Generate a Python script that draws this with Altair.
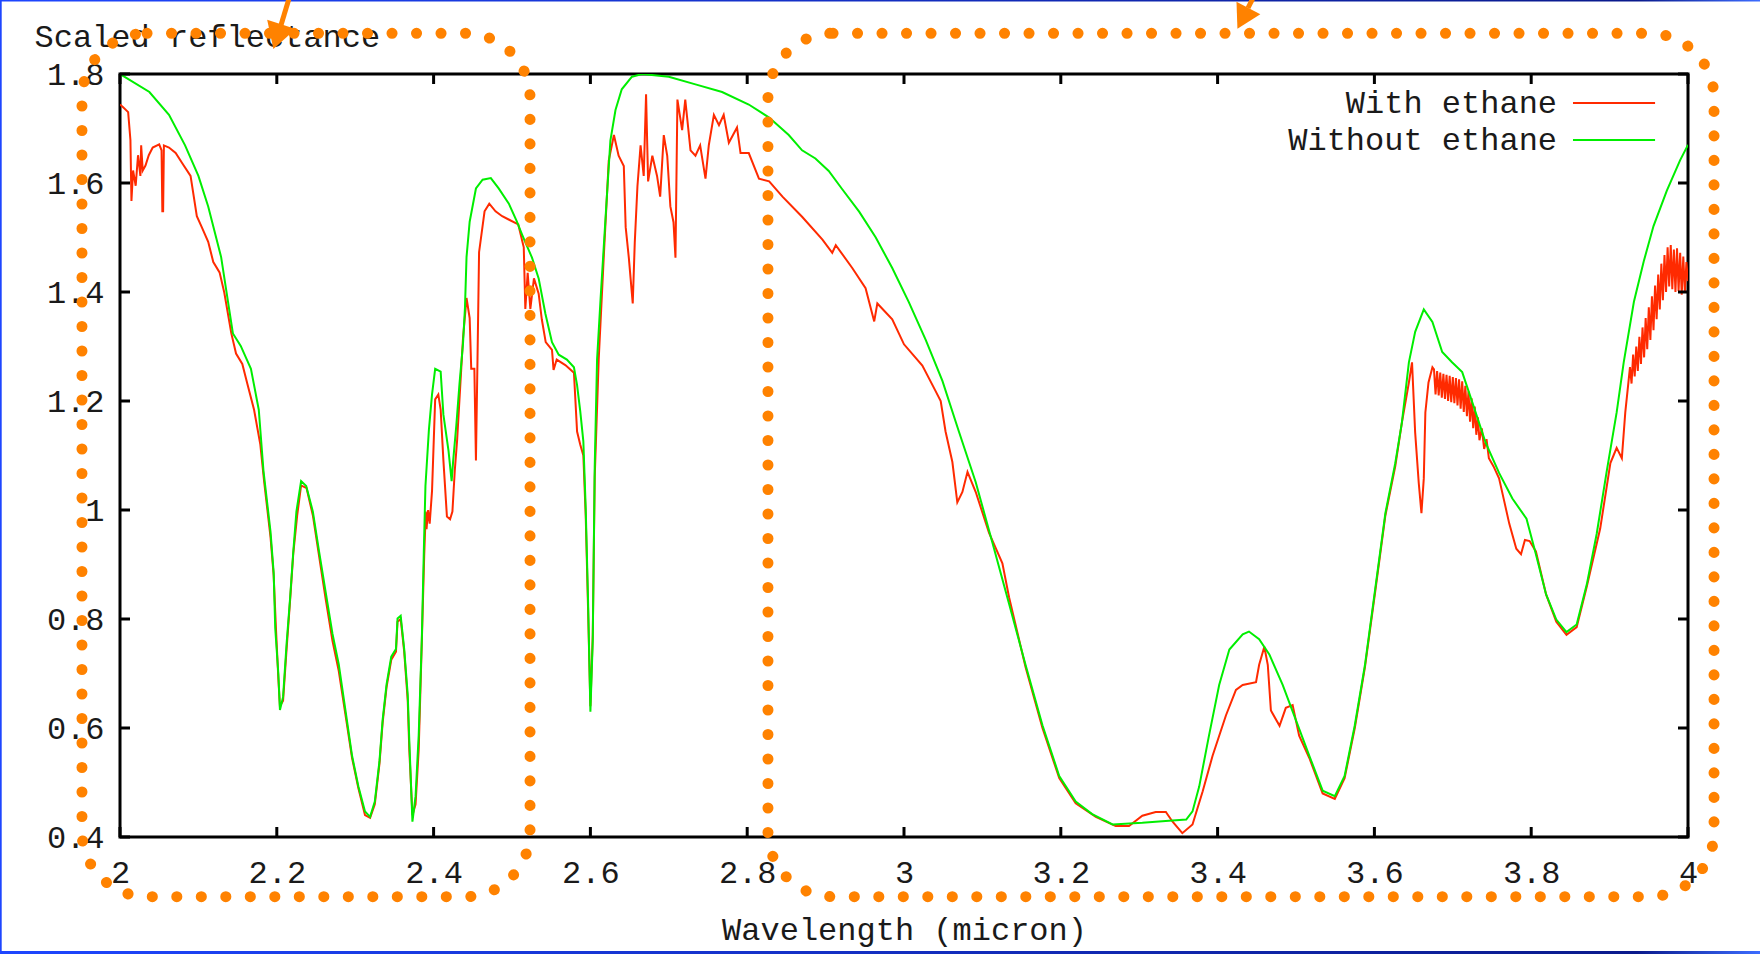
import altair as alt
import pandas as pd

# ---------------- data ----------------
green_wl = [2.000, 2.0375, 2.0625, 2.083, 2.100, 2.1125, 2.129, 2.144, 2.154, 2.167, 2.177, 2.183,
            2.192, 2.196, 2.198, 2.202, 2.204, 2.208, 2.2125, 2.217, 2.221, 2.225, 2.231, 2.2375,
            2.246, 2.254, 2.2625, 2.271, 2.279, 2.2875, 2.296, 2.304, 2.3125, 2.319, 2.325, 2.331,
            2.335, 2.340, 2.346, 2.352, 2.354, 2.358, 2.3625, 2.367, 2.369, 2.373, 2.377, 2.381,
            2.385, 2.3875, 2.3896, 2.394, 2.398, 2.402, 2.409, 2.4125, 2.419, 2.423, 2.425, 2.429,
            2.433, 2.4375, 2.440, 2.442, 2.446, 2.454, 2.4625, 2.473, 2.483, 2.496, 2.506, 2.513,
            2.5255, 2.534, 2.5426, 2.551, 2.5596, 2.570, 2.579, 2.583, 2.587, 2.591, 2.594, 2.597,
            2.600, 2.603, 2.6055, 2.6085, 2.613, 2.617, 2.621, 2.6255, 2.632, 2.640, 2.653, 2.666,
            2.700, 2.734, 2.768, 2.802, 2.828, 2.853, 2.870, 2.887, 2.904, 2.921, 2.943, 2.964,
            2.985, 3.006, 3.0277, 3.049, 3.070, 3.0915, 3.1128, 3.134, 3.155, 3.1766, 3.198, 3.219,
            3.240, 3.266, 3.304, 3.338, 3.360, 3.368, 3.3766, 3.389, 3.402, 3.415, 3.432, 3.440,
            3.453, 3.466, 3.483, 3.500, 3.517, 3.534, 3.5495, 3.562, 3.575, 3.588, 3.601, 3.614,
            3.6266, 3.635, 3.644, 3.652, 3.663, 3.674, 3.6865, 3.699, 3.712, 3.725, 3.742, 3.759,
            3.776, 3.794, 3.806, 3.819, 3.832, 3.845, 3.858, 3.871, 3.8835, 3.896, 3.909, 3.918,
            3.931, 3.9435, 3.956, 3.973, 3.990, 4.000]
green_refl = [1.800, 1.767, 1.725, 1.669, 1.613, 1.557, 1.464, 1.324, 1.301, 1.259, 1.184, 1.072,
              0.960, 0.885, 0.783, 0.699, 0.633, 0.657, 0.755, 0.839, 0.923, 0.997, 1.053, 1.044,
              0.997, 0.923, 0.848, 0.773, 0.717, 0.633, 0.549, 0.493, 0.447, 0.437, 0.465, 0.540,
              0.615, 0.680, 0.731, 0.745, 0.801, 0.806, 0.745, 0.661, 0.577, 0.428, 0.475, 0.587,
              0.764, 0.923, 1.044, 1.147, 1.212, 1.259, 1.254, 1.175, 1.109, 1.053, 1.091, 1.156,
              1.231, 1.305, 1.371, 1.464, 1.529, 1.590, 1.606, 1.609, 1.590, 1.562, 1.530, 1.505,
              1.463, 1.425, 1.360, 1.308, 1.285, 1.276, 1.262, 1.229, 1.182, 1.126, 1.004, 0.835,
              0.630, 0.760, 1.079, 1.276, 1.388, 1.482, 1.575, 1.678, 1.734, 1.772, 1.795, 1.800,
              1.795, 1.781, 1.767, 1.744, 1.720, 1.688, 1.660, 1.645, 1.622, 1.589, 1.547, 1.500,
              1.444, 1.382, 1.312, 1.237, 1.144, 1.051, 0.940, 0.828, 0.716, 0.605, 0.512, 0.465,
              0.442, 0.423, 0.426, 0.430, 0.432, 0.447, 0.493, 0.586, 0.679, 0.744, 0.772, 0.777,
              0.763, 0.735, 0.679, 0.614, 0.549, 0.485, 0.475, 0.512, 0.605, 0.716, 0.855, 0.994,
              1.086, 1.160, 1.271, 1.327, 1.368, 1.345, 1.290, 1.271, 1.253, 1.197, 1.123, 1.068,
              1.021, 0.984, 0.919, 0.845, 0.799, 0.776, 0.790, 0.864, 0.956, 1.068, 1.179, 1.271,
              1.382, 1.456, 1.521, 1.586, 1.642, 1.670]

red_wl = [2.000, 2.004, 2.0104, 2.0133, 2.0146, 2.0167, 2.020, 2.023, 2.026, 2.027, 2.029, 2.0325,
          2.0367, 2.0417, 2.050, 2.053, 2.054, 2.055, 2.056, 2.0625, 2.071, 2.079, 2.090, 2.098,
          2.104, 2.1125, 2.119, 2.127, 2.133, 2.142, 2.148, 2.156, 2.1625, 2.171, 2.179, 2.184,
          2.192, 2.196, 2.199, 2.202, 2.204, 2.208, 2.2125, 2.217, 2.221, 2.226, 2.231, 2.238,
          2.246, 2.254, 2.2625, 2.271, 2.279, 2.2875, 2.296, 2.304, 2.3125, 2.319, 2.325, 2.331,
          2.335, 2.340, 2.346, 2.352, 2.354, 2.358, 2.3625, 2.367, 2.369, 2.373, 2.377, 2.381,
          2.385, 2.388, 2.390, 2.391, 2.393, 2.395, 2.398, 2.402, 2.406, 2.409, 2.4125, 2.417,
          2.421, 2.424, 2.427, 2.430, 2.433, 2.4375, 2.442, 2.446, 2.448, 2.452, 2.454, 2.456,
          2.458, 2.465, 2.471, 2.479, 2.4875, 2.4957, 2.508, 2.515, 2.517, 2.520, 2.5234, 2.528,
          2.534, 2.538, 2.543, 2.551, 2.553, 2.557, 2.568, 2.579, 2.583, 2.587, 2.591, 2.594,
          2.597, 2.600, 2.603, 2.6055, 2.6106, 2.617, 2.6234, 2.630, 2.636, 2.6426, 2.645, 2.649,
          2.654, 2.6566, 2.660, 2.664, 2.668, 2.671, 2.6736, 2.679, 2.685, 2.689, 2.6936, 2.698,
          2.702, 2.706, 2.7085, 2.711, 2.717, 2.721, 2.7277, 2.734, 2.740, 2.7468, 2.751, 2.7575,
          2.764, 2.770, 2.7766, 2.787, 2.7915, 2.802, 2.815, 2.828, 2.845, 2.870, 2.896, 2.9085,
          2.913, 2.934, 2.951, 2.962, 2.966, 2.985, 3.000, 3.0234, 3.040, 3.0468, 3.053, 3.0617,
          3.068, 3.0745, 3.081, 3.0915, 3.1085, 3.1255, 3.134, 3.155, 3.1766, 3.198, 3.219, 3.2447,
          3.270, 3.287, 3.304, 3.321, 3.334, 3.3426, 3.355, 3.368, 3.381, 3.3936, 3.4106, 3.4234,
          3.432, 3.449, 3.453, 3.4596, 3.464, 3.468, 3.479, 3.487, 3.4957, 3.504, 3.517, 3.534,
          3.5495, 3.562, 3.575, 3.588, 3.601, 3.614, 3.6266, 3.635, 3.644, 3.648, 3.652, 3.6566,
          3.660, 3.663, 3.665, 3.669, 3.674,
          3.676, 3.678, 3.680, 3.682, 3.684, 3.686, 3.688, 3.690, 3.692, 3.694, 3.696, 3.698,
          3.700, 3.702, 3.704, 3.706, 3.708, 3.710, 3.712, 3.714, 3.716, 3.718, 3.720, 3.722,
          3.724, 3.726, 3.728, 3.730, 3.732, 3.734, 3.737, 3.740, 3.743, 3.746,
          3.752, 3.759, 3.765, 3.772, 3.781, 3.787, 3.792, 3.798,
          3.806, 3.819, 3.832, 3.845, 3.858, 3.871, 3.888, 3.901, 3.905, 3.909, 3.9156, 3.920,
          3.924,
          3.926, 3.928, 3.930, 3.932, 3.934, 3.936, 3.938, 3.940, 3.942, 3.944, 3.946, 3.948,
          3.950, 3.952, 3.954, 3.956, 3.958, 3.960, 3.962, 3.964, 3.966, 3.968, 3.970, 3.972,
          3.974, 3.976, 3.978, 3.980, 3.982, 3.984, 3.986, 3.988, 3.990, 3.992, 3.994, 3.996,
          3.998, 4.000]
red_refl = [1.744, 1.739, 1.730, 1.679, 1.567, 1.623, 1.595, 1.651, 1.613, 1.669, 1.623, 1.632,
            1.651, 1.665, 1.671, 1.660, 1.548, 1.548, 1.669, 1.665, 1.655, 1.637, 1.613, 1.539,
            1.520, 1.492, 1.455, 1.436, 1.399, 1.324, 1.287, 1.268, 1.231, 1.184, 1.120, 1.050,
            0.950, 0.880, 0.780, 0.690, 0.640, 0.650, 0.745, 0.835, 0.920, 0.990, 1.045, 1.040,
            0.990, 0.915, 0.835, 0.760, 0.705, 0.625, 0.545, 0.490, 0.440, 0.435, 0.460, 0.535,
            0.610, 0.675, 0.725, 0.740, 0.795, 0.800, 0.740, 0.650, 0.560, 0.440, 0.460, 0.560,
            0.760, 0.915, 0.997, 0.965, 1.000, 0.975, 1.035, 1.203, 1.212, 1.184, 1.091, 0.988,
            0.983, 0.997, 1.072, 1.128, 1.203, 1.315, 1.389, 1.352, 1.259, 1.259, 1.091, 1.277,
            1.473, 1.548, 1.562, 1.548, 1.539, 1.533, 1.524, 1.482, 1.369, 1.435, 1.369, 1.425,
            1.397, 1.350, 1.308, 1.294, 1.257, 1.276, 1.266, 1.252, 1.144, 1.120, 1.100, 0.990,
            0.820, 0.640, 0.770, 1.060, 1.276, 1.463, 1.641, 1.688, 1.650, 1.631, 1.519, 1.463,
            1.379, 1.491, 1.594, 1.669, 1.613, 1.763, 1.603, 1.650, 1.613, 1.575, 1.688, 1.650,
            1.557, 1.528, 1.463, 1.753, 1.697, 1.753, 1.660, 1.650, 1.669, 1.608, 1.669, 1.725,
            1.706, 1.725, 1.674, 1.702, 1.655, 1.655, 1.608, 1.603, 1.575, 1.538, 1.496, 1.472,
            1.486, 1.444, 1.407, 1.346, 1.379, 1.350, 1.304, 1.265, 1.219, 1.200, 1.144, 1.088,
            1.014, 1.033, 1.070, 1.033, 0.958, 0.902, 0.840, 0.712, 0.600, 0.508, 0.462, 0.437,
            0.420, 0.420, 0.439, 0.446, 0.446, 0.428, 0.407, 0.423, 0.484, 0.549, 0.623, 0.670,
            0.679, 0.684, 0.716, 0.749, 0.716, 0.632, 0.604, 0.637, 0.642, 0.586, 0.545, 0.480,
            0.470, 0.508, 0.600, 0.712, 0.850, 0.990, 1.080, 1.160, 1.234, 1.271, 1.142, 1.049,
            0.994, 1.058, 1.179, 1.234, 1.262,
            1.258, 1.212, 1.255, 1.210, 1.252, 1.206, 1.250, 1.204, 1.248, 1.200, 1.246, 1.198,
            1.244, 1.196, 1.242, 1.192, 1.240, 1.186, 1.236, 1.180, 1.228, 1.172, 1.218, 1.162,
            1.205, 1.150, 1.190, 1.138, 1.170, 1.128, 1.150, 1.112, 1.130, 1.095,
            1.080, 1.058, 1.020, 0.975, 0.929, 0.919, 0.945, 0.943,
            0.924, 0.845, 0.795, 0.771, 0.785, 0.860, 0.966, 1.086, 1.100, 1.114, 1.095, 1.179,
            1.234,
            1.262, 1.232, 1.285, 1.245, 1.300, 1.255, 1.318, 1.268, 1.335, 1.280, 1.352, 1.295,
            1.372, 1.312, 1.392, 1.330, 1.412, 1.350, 1.432, 1.368, 1.452, 1.385, 1.468, 1.400,
            1.482, 1.410, 1.486, 1.405, 1.478, 1.400, 1.480, 1.402, 1.472, 1.395, 1.465, 1.400,
            1.455, 1.420]

x_ticks = [2.0, 2.2, 2.4, 2.6, 2.8, 3.0, 3.2, 3.4, 3.6, 3.8, 4.0]
y_ticks = [0.4, 0.6, 0.8, 1.0, 1.2, 1.4, 1.6, 1.8]

legend_labels = ["With ethane", "Without ethane"]
legend_refl = [1.7468, 1.6789]
legend_text_wl = [3.833, 3.833]
legend_line_wl1 = [3.8533, 3.8533]
legend_line_wl2 = [3.958, 3.958]

# orange annotation boxes and arrows (data coordinates)
box_wl1 = [1.9515, 2.8265]
box_wl2 = [2.523, 4.0332]
box_refl1 = [0.2905, 0.2905]
box_refl2 = [1.8747, 1.8747]

arrow_wl0 = [2.2181, 3.449]
arrow_refl0 = [1.9505, 1.9505]
arrow_wl1 = [2.2054, 3.4388]
arrow_refl1 = [1.8899, 1.9211]
head_wl = [2.2008, 3.4323]
head_refl = [1.8685, 1.9022]
head_angle = [18, 28]
head_size = [900, 730]

# ---------------- styling ----------------
W, H = 1568, 763
RED = "#ff2a00"
GREEN = "#00ee00"
ORANGE = "#ff8200"
FONT = "Liberation Mono"
FS = 32
TXT = "#1a1a1a"

xs = alt.Scale(domain=[2, 4], nice=False, zero=False)
ys = alt.Scale(domain=[0.4, 1.8], nice=False, zero=False)

x_axis = alt.Axis(values=x_ticks, labelExpr="format(datum.value, '.2~f')", domain=False,
                  ticks=False, grid=False, labelFont=FONT, labelFontSize=FS, labelColor=TXT,
                  labelPadding=20, labelFlush=False, labelOverlap=False,
                  title="Wavelength (micron)", titleFont=FONT, titleFontSize=FS,
                  titleFontWeight="normal", titleColor=TXT, titleY=92, titleBaseline="middle")
y_axis = alt.Axis(values=y_ticks, labelExpr="format(datum.value, '.2~f')", domain=False,
                  ticks=False, grid=False, labelFont=FONT, labelFontSize=FS, labelColor=TXT,
                  labelPadding=16, labelFlush=False, labelOverlap=False,
                  title="Scaled reflectance", titleFont=FONT, titleFontSize=FS,
                  titleFontWeight="normal", titleColor=TXT, titleAngle=0, titleX=-86,
                  titleY=-38, titleAlign="left", titleBaseline="middle")


def X(f):
    return alt.X(f, type="quantitative", scale=xs, axis=x_axis)


def Y(f):
    return alt.Y(f, type="quantitative", scale=ys, axis=y_axis)


red_df = pd.DataFrame({"wl": red_wl, "refl": red_refl})
green_df = pd.DataFrame({"wl": green_wl, "refl": green_refl})

red_line = alt.Chart(red_df).mark_line(color=RED, strokeWidth=2, clip=True).encode(
    x=X("wl"), y=Y("refl"), order="wl:Q")
green_line = alt.Chart(green_df).mark_line(color=GREEN, strokeWidth=2, clip=True).encode(
    x=X("wl"), y=Y("refl"), order="wl:Q")

xt_df = pd.DataFrame({"t": x_ticks})
yt_df = pd.DataFrame({"t": y_ticks})
tick_bottom = alt.Chart(xt_df).mark_rule(color="black", strokeWidth=3).encode(
    x=X("t"), y=alt.value(H), y2=alt.value(H - 10))
tick_top = alt.Chart(xt_df).mark_rule(color="black", strokeWidth=3).encode(
    x=X("t"), y=alt.value(0), y2=alt.value(10))
tick_left = alt.Chart(yt_df).mark_rule(color="black", strokeWidth=3).encode(
    y=Y("t"), x=alt.value(0), x2=alt.value(10))
tick_right = alt.Chart(yt_df).mark_rule(color="black", strokeWidth=3).encode(
    y=Y("t"), x=alt.value(W), x2=alt.value(W - 10))

leg_df = pd.DataFrame({"label": legend_labels, "refl": legend_refl, "tx": legend_text_wl,
                       "l1": legend_line_wl1, "l2": legend_line_wl2, "c": [RED, GREEN]})
leg_text = alt.Chart(leg_df).mark_text(align="right", baseline="middle", font=FONT,
                                       fontSize=FS, color=TXT).encode(
    x=X("tx"), y=Y("refl"), text="label:N")
leg_lines = alt.Chart(leg_df).mark_rule(strokeWidth=2).encode(
    x=X("l1"), x2="l2:Q", y=Y("refl"),
    color=alt.Color("c:N", scale=None))

box_df = pd.DataFrame({"x1": box_wl1, "x2": box_wl2, "y1": box_refl1, "y2": box_refl2})
boxes = alt.Chart(box_df).mark_rect(fill="white", fillOpacity=0, stroke=ORANGE, strokeWidth=11,
                                   strokeDash=[0.1, 24.4], strokeCap="round",
                                   cornerRadius=65).encode(
    x=X("x1"), x2="x2:Q", y=Y("y1"), y2="y2:Q")

arr_df = pd.DataFrame({"x0": arrow_wl0, "y0": arrow_refl0, "x1": arrow_wl1, "y1": arrow_refl1,
                       "hx": head_wl, "hy": head_refl, "ang": head_angle, "sz": head_size})
shafts = alt.Chart(arr_df).mark_rule(color=ORANGE, strokeWidth=5).encode(
    x=X("x0"), y=Y("y0"), x2="x1:Q", y2="y1:Q")
heads = alt.Chart(arr_df).mark_point(shape="triangle-down", filled=True, color=ORANGE,
                                    opacity=1).encode(
    x=X("hx"), y=Y("hy"), angle=alt.Angle("ang:Q", scale=None),
    size=alt.Size("sz:Q", scale=None))

# thin blue frame of the slide
one = pd.DataFrame({"k": [0]})
grad = alt.LinearGradient(gradient="linear", x1=0, x2=1, y1=0, y2=0,
                          stops=[alt.GradientStop(color="#1e46ff", offset=0),
                                 alt.GradientStop(color="#0a1a8c", offset=0.93),
                                 alt.GradientStop(color="#3c6cff", offset=1)])
frame_top = alt.Chart(one).mark_rect(color=grad).encode(
    x=alt.value(-120), x2=alt.value(W + 72), y=alt.value(-74), y2=alt.value(-72.5))
frame_bottom = alt.Chart(one).mark_rect(color=grad).encode(
    x=alt.value(-120), x2=alt.value(W + 72), y=alt.value(H + 114), y2=alt.value(H + 117))
frame_left = alt.Chart(one).mark_rect(color="#1e46ff").encode(
    x=alt.value(-120), x2=alt.value(-118.3), y=alt.value(-74), y2=alt.value(H + 117))

chart = alt.layer(
    frame_top, frame_bottom, frame_left,
    red_line, green_line,
    tick_bottom, tick_top, tick_left, tick_right,
    leg_lines, leg_text,
    boxes, shafts, heads,
).properties(
    width=W, height=H,
    padding={"left": 120, "top": 74, "right": 72, "bottom": 117},
    autosize=alt.AutoSizeParams(type="none"),
    background="white",
).configure_view(stroke="black", strokeWidth=3)

chart.save("out.html", embed_options={"renderer": "svg", "actions": False})
